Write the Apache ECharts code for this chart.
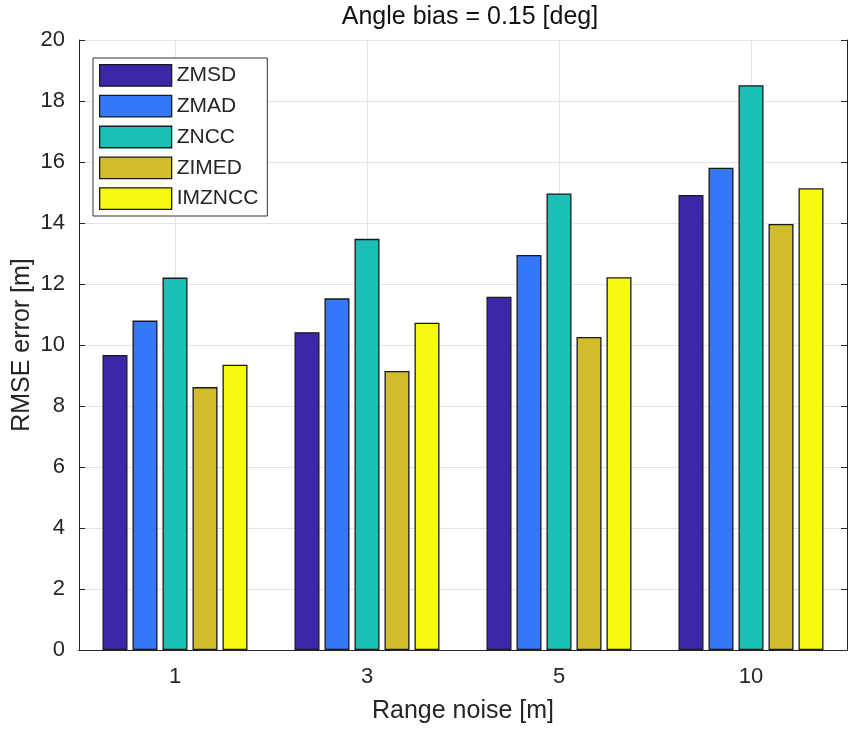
<!DOCTYPE html>
<html>
<head>
    <meta charset="UTF-8">
    <title>Angle bias</title>
    <script src="https://cdn.jsdelivr.net/npm/echarts@6/dist/echarts.min.js"></script>
    <style>
        html, body { margin: 0; padding: 0; background: #fff; }
        #chart { width: 854px; height: 729px; }
    </style>
</head>
<body>
<div id="chart"></div>
<script>
    // range noise categories
    const categories = ['1', '3', '5', '10'];
    const seriesNames = ['ZMSD', 'ZMAD', 'ZNCC', 'ZIMED', 'IMZNCC'];
    const zmsd   = [9.67, 10.42, 11.58, 14.92];
    const zmad   = [10.80, 11.53, 12.95, 15.81];
    const zncc   = [12.21, 13.48, 14.97, 18.52];
    const zimed  = [8.62, 9.15, 10.26, 13.97];
    const imzncc = [9.35, 10.73, 12.22, 15.14];
    const colors = ['#3d27a8', '#3278f9', '#1abfb5', '#d0bd29', '#f8f815'];

    const font = '"Liberation Sans", Arial, sans-serif';
    const axisColor = '#262626';
    const gridColor = '#e3e3e3';

    const chart = echarts.init(document.getElementById('chart'));

    const values = [zmsd, zmad, zncc, zimed, imzncc];
    const series = seriesNames.map((name, i) => ({
        name: name,
        type: 'bar',
        data: values[i],
        barWidth: 25,
        barGap: '20%',
        itemStyle: {
            color: colors[i],
            borderColor: '#1a1a1a',
            borderWidth: 1.3
        }
    }));

    const option = {
        animation: false,
        title: {
            text: 'Angle bias = 0.15 [deg]',
            left: 465,
            top: 0,
            textAlign: 'center',
            textStyle: { fontFamily: font, fontSize: 25, fontWeight: 'normal', color: '#111' }
        },
        legend: {
            orient: 'vertical',
            left: 93,
            top: 58,
            padding: [6, 9, 6, 6],
            itemWidth: 72,
            itemHeight: 21.5,
            itemGap: 8,
            backgroundColor: '#fff',
            borderColor: '#333',
            borderWidth: 1,
            borderRadius: 0,
            textStyle: { fontFamily: font, fontSize: 21, color: '#262626' },
            itemStyle: { borderColor: '#1a1a1a', borderWidth: 1.3 },
            data: seriesNames.map(n => ({ name: n, icon: 'rect' }))
        },
        grid: { left: 79, right: 7, top: 40, bottom: 79, outerBoundsMode: 'none' },
        xAxis: [{
            type: 'category',
            data: categories,
            name: 'Range noise [m]',
            nameLocation: 'middle',
            nameGap: 49,
            nameMoveOverlap: false,
            nameTextStyle: { fontFamily: font, fontSize: 25, color: '#262626' },
            axisLine: { lineStyle: { color: axisColor, width: 1 } },
            axisTick: { inside: true, alignWithLabel: true, length: 6, lineStyle: { color: axisColor } },
            axisLabel: { fontFamily: font, fontSize: 22, color: '#262626', margin: 16 },
            splitLine: { show: true, alignWithLabel: true, lineStyle: { color: gridColor } }
        }, {
            type: 'category',
            data: categories,
            position: 'top',
            axisLine: { lineStyle: { color: axisColor, width: 1 } },
            axisTick: { inside: true, alignWithLabel: true, length: 6, lineStyle: { color: axisColor } },
            axisLabel: { show: false },
            splitLine: { show: false }
        }],
        yAxis: [{
            type: 'value',
            min: 0,
            max: 20,
            interval: 2,
            name: 'RMSE error [m]',
            nameLocation: 'middle',
            nameGap: 44,
            nameMoveOverlap: false,
            nameTextStyle: { fontFamily: font, fontSize: 25, color: '#262626' },
            axisLine: { show: true, lineStyle: { color: axisColor, width: 1 } },
            axisTick: { show: true, inside: true, length: 6, lineStyle: { color: axisColor } },
            axisLabel: { fontFamily: font, fontSize: 22, color: '#262626', margin: 14 },
            splitLine: { show: true, lineStyle: { color: gridColor } }
        }, {
            type: 'value',
            min: 0,
            max: 20,
            interval: 2,
            position: 'right',
            axisLine: { show: true, lineStyle: { color: axisColor, width: 1 } },
            axisTick: { show: true, inside: true, length: 6, lineStyle: { color: axisColor } },
            axisLabel: { show: false },
            splitLine: { show: false }
        }],
        series: series
    };

    chart.setOption(option);
</script>
</body>
</html>
